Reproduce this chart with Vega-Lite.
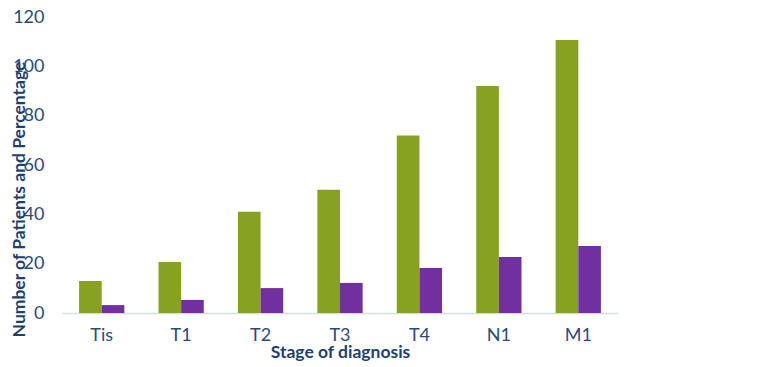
{
  "$schema": "https://vega.github.io/schema/vega-lite/v6.json",
  "width": 556,
  "height": 296,
  "autosize": {"type": "none"},
  "padding": {"left": 62, "top": 17, "right": 160, "bottom": 54},
  "background": "white",
  "config": {
    "view": {"stroke": null},
    "font": "Lato",
    "axis": {"labelColor": "#2a4a78", "titleColor": "#1f3f6e", "labelFont": "Lato", "titleFont": "Lato"}
  },
  "data": {
    "values": [
      {"stage": "Tis", "series": "Patients", "value": 13},
      {"stage": "Tis", "series": "Percentage", "value": 3.2},
      {"stage": "T1", "series": "Patients", "value": 20.7},
      {"stage": "T1", "series": "Percentage", "value": 5.3},
      {"stage": "T2", "series": "Patients", "value": 41},
      {"stage": "T2", "series": "Percentage", "value": 10.1},
      {"stage": "T3", "series": "Patients", "value": 50},
      {"stage": "T3", "series": "Percentage", "value": 12.2},
      {"stage": "T4", "series": "Patients", "value": 72},
      {"stage": "T4", "series": "Percentage", "value": 18.2},
      {"stage": "N1", "series": "Patients", "value": 92},
      {"stage": "N1", "series": "Percentage", "value": 22.7},
      {"stage": "M1", "series": "Patients", "value": 110.7},
      {"stage": "M1", "series": "Percentage", "value": 27.2}
    ]
  },
  "mark": {"type": "bar"},
  "encoding": {
    "x": {
      "field": "stage",
      "type": "nominal",
      "sort": ["Tis", "T1", "T2", "T3", "T4", "N1", "M1"],
      "scale": {"paddingInner": 0.43, "paddingOuter": 0.215},
      "axis": {
        "title": "Stage of diagnosis",
        "titleFontSize": 17.5,
        "titleFontWeight": "bold",
        "titleY": 39,
        "titleBaseline": "middle",
        "labelAngle": 0,
        "labelFontSize": 18,
        "labelPadding": 13,
        "ticks": false,
        "domainColor": "#d6dce6",
        "domainWidth": 1.5
      }
    },
    "xOffset": {"field": "series", "type": "nominal", "sort": ["Patients", "Percentage"]},
    "y": {
      "field": "value",
      "type": "quantitative",
      "scale": {"domain": [0, 120], "nice": false},
      "axis": {
        "title": "Number of Patients and Percentage",
        "titleFontSize": 17.5,
        "titleFontWeight": "bold",
        "titleX": -43,
        "titleY": 182,
        "titleAngle": -90,
        "titleAlign": "center",
        "titleBaseline": "middle",
        "values": [0, 20, 40, 60, 80, 100, 120],
        "labelFontSize": 18,
        "labelPadding": 18,
        "ticks": false,
        "domain": false,
        "grid": false
      }
    },
    "color": {
      "field": "series",
      "type": "nominal",
      "scale": {"domain": ["Patients", "Percentage"], "range": ["#87a221", "#7030a0"]},
      "legend": null
    }
  }
}
